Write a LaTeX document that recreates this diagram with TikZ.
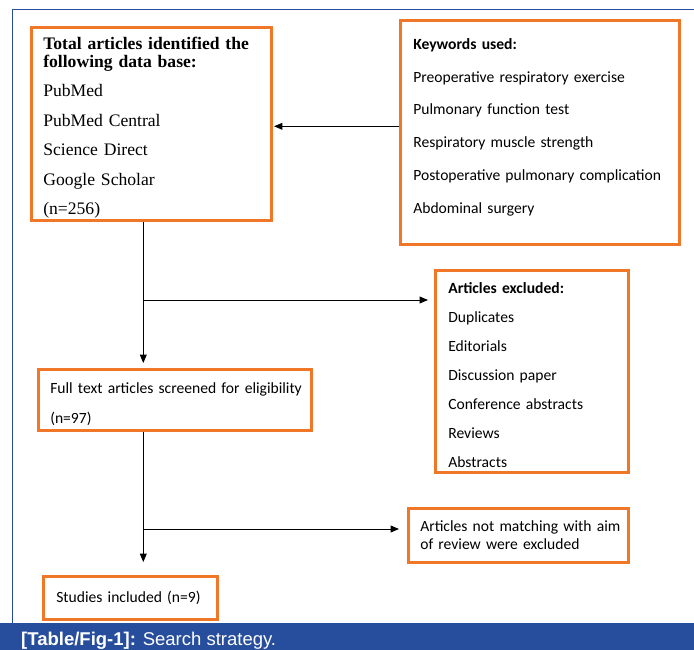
\documentclass[tikz,border=0pt]{standalone}
\usepackage{fontspec}
\setmainfont{Carlito}
\newfontfamily\dbfont{Liberation Serif}
\newfontfamily\capfont{Liberation Sans}
\usetikzlibrary{arrows}
\usetikzlibrary{positioning}
\usetikzlibrary{calc}
\definecolor{boxorange}{RGB}{240,118,40}
\definecolor{capblue}{RGB}{38,78,156}
\newcommand{\padtop}[1]{\rule{0pt}{#1}}
\newcommand{\padbot}[1]{\rule[-#1]{0pt}{#1}}
\tikzset{stage/.style={rectangle,draw=boxorange,line width=2.6pt,anchor=north west,
  align=left,inner xsep=12pt,inner ysep=2pt,font=\fontsize{15.6}{29}\selectfont},
  dbase/.style={stage,font=\dbfont\fontsize{17.6}{29.5}\selectfont},
  keys/.style={stage,inner xsep=13pt,font=\fontsize{15.6}{32.8}\selectfont},
  link/.style={color=black,line width=0.9pt},
  >={triangle 45}}
\begin{document}
\begin{tikzpicture}[x=1pt,y=-1pt]
  \useasboundingbox (0,0) rectangle (694,650);
  \draw [capblue,line width=1pt] (694,10) -- (12,10) -- (12,623);
  \fill [capblue] (0,623) rectangle (694,650);
  \node (cap) [anchor=west,text=white,inner sep=0pt,font=\capfont\fontsize{18.5}{20}\selectfont]
    at (21,641) {\textbf{[Table/Fig-1]:} Search strategy.};

  \node (db) [dbase,text width=216pt,minimum height=191pt] at (30,26)
    {\padtop{20pt}\textbf{Total articles identified the}\\[-11.5pt]\textbf{following data base:}\\
     PubMed\\ PubMed Central\\ Science Direct\\ Google Scholar\\ (n=256)};
  \node (kw) [keys,text width=253pt,minimum height=224pt] at (399,19)
    {\textbf{Keywords used:}\\ Preoperative respiratory exercise\\ Pulmonary function test\\
     Respiratory muscle strength\\ \mbox{Postoperative pulmonary complication}\\ Abdominal surgery\padbot{13pt}};
  \node (exc) [stage,inner xsep=13pt,text width=167pt,minimum height=202pt] at (434,269)
    {\padtop{18pt}\textbf{Articles excluded:}\\ Duplicates\\ Editorials\\ Discussion paper\\
     Conference abstracts\\ Reviews\\ Abstracts};
  \node (scr) [stage,font=\fontsize{15.6}{30}\selectfont,text width=249pt,minimum height=61pt] at (37,368)
    {\padtop{20pt}\mbox{Full text articles screened for eligibility}\\ (n=97)};
  \node (mis) [stage,font=\fontsize{15.6}{17.5}\selectfont,text width=196pt,minimum height=54pt] at (407,507)
    {\mbox{Articles not matching with aim}\\ of review were excluded};
  \node (inc) [stage,inner xsep=13pt,text width=148pt,minimum height=43pt] at (42,575)
    {\mbox{Studies included (n=9)}};

  \coordinate (kwout) at ([yshift=6pt]kw.west);
  \coordinate (trunk1) at ([xshift=-8pt]db.south);
  \coordinate (fork1) at (trunk1 |- 0,300);
  \coordinate (trunk2) at (trunk1 |- scr.south);
  \coordinate (fork2) at (trunk2 |- 0,529);
  \draw [link,->,shorten >=1.5pt] (kwout) -- (kwout -| db.east);
  \draw [link,->,shorten >=5pt] (trunk1) -- (trunk1 |- scr.north);
  \draw [link,->,shorten >=6pt] (fork1) -- (fork1 -| exc.west);
  \draw [link,->,shorten >=13pt] (trunk2) -- (trunk2 |- inc.north);
  \draw [link,->,shorten >=8pt] (fork2) -- (fork2 -| mis.west);
\end{tikzpicture}
\end{document}
